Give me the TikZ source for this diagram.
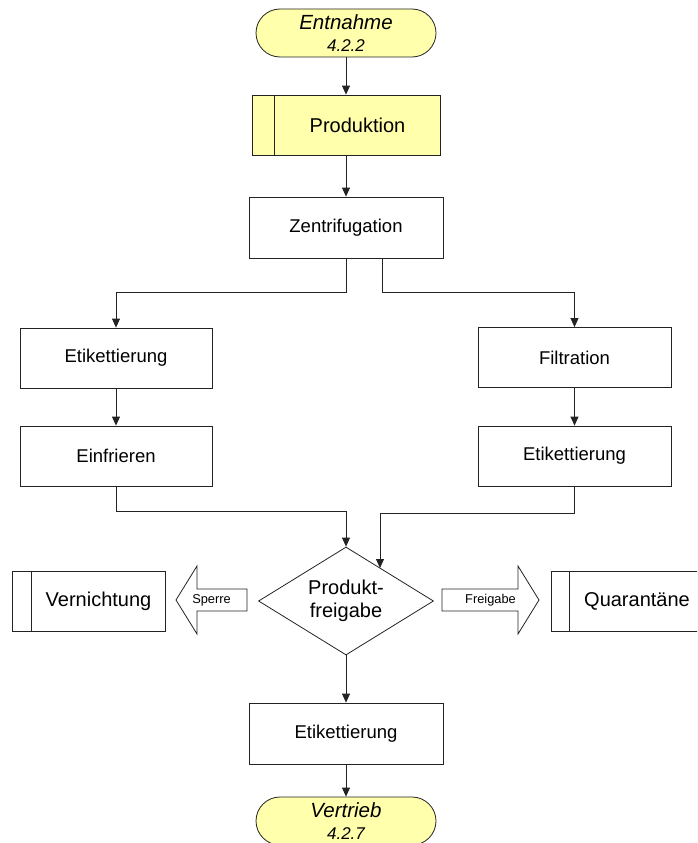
\documentclass[tikz,border=0pt]{standalone}
\usepackage{fontspec}
\setmainfont{Liberation Sans}
\usetikzlibrary{shapes.geometric,arrows.meta}
\definecolor{termfill}{RGB}{255,255,172}
\definecolor{linec}{RGB}{35,35,35}
\begin{document}
\begin{tikzpicture}[x=1pt,y=-1pt,
  base/.style={draw=linec, line width=0.8pt, inner sep=0pt},
  proc/.style={base, minimum width=193pt, minimum height=60pt, font=\fontsize{18.5}{22}\selectfont},
  side/.style={base, minimum width=153pt, minimum height=60pt},
  term/.style={base, fill=termfill, rounded corners=24pt, minimum width=180pt, minimum height=48pt, align=center, font=\fontsize{20.5}{22}\selectfont\itshape},
  lbl/.style={inner sep=0pt, font=\fontsize{20}{24}\selectfont},
  small/.style={inner sep=0pt, font=\fontsize{12.8}{15}\selectfont},
  arr/.style={draw=linec, line width=0.8pt, -{Triangle[length=9pt,width=8pt]}},
  conn/.style={draw=linec, line width=0.8pt},
  blk/.style={draw=linec, line width=0.8pt, fill=white, line join=miter}
]
\useasboundingbox (0,0) rectangle (697,843);
\clip (0,0) rectangle (697,843);

% terminators
\node[term] (entn) at (346,33) {Entnahme\\{\fontsize{17}{22}\selectfont 4.2.2}};
\node[term] (vert) at (346,821) {Vertrieb\\{\fontsize{17}{22}\selectfont 4.2.7}};

% predefined process Produktion
\node[base, fill=termfill, minimum width=188pt, minimum height=60pt] (prod) at (346,125) {};
\draw[conn] ([xshift=23pt]prod.north west) -- ([xshift=23pt]prod.south west);
\node[lbl] (prodlbl) at (357.5,125) {Produktion};

% process boxes
\node[proc, minimum width=194pt, minimum height=61pt] (zent) at (346,227.5) {Zentrifugation};
\node[proc, minimum width=192pt] (etik1) at (116,358) {Etikettierung};
\node[proc, minimum width=192pt] (einf) at (116,456) {Einfrieren};
\node[proc] (filt) at (574.5,357.5) {Filtration};
\node[proc] (etik2) at (574.5,456) {Etikettierung};
\node[proc, minimum width=194pt, minimum height=61pt] (etik3) at (346,733.5) {Etikettierung};

% decision
\node[base, diamond, aspect=1.62, minimum width=175pt, minimum height=108pt, align=center, font=\fontsize{20}{23}\selectfont] (dia) at (346,601) {Produkt-\\freigabe};
\coordinate (din) at (380,568);

% side boxes
\node[side] (vern) at (88.5,601) {};
\draw[conn] ([xshift=20pt]vern.north west) -- ([xshift=20pt]vern.south west);
\node[lbl] (vernlbl) at (98.5,601) {Vernichtung};
\node[side] (quar) at (627.5,601) {};
\draw[conn] ([xshift=19pt]quar.north west) -- ([xshift=19pt]quar.south west);
\node[lbl] (quarlbl) at (637,601) {Quarantäne};

% block arrows
\draw[blk] (176,600) -- (197,566) -- (197,589) -- (247,589) -- (247,611) -- (197,611) -- (197,634) -- cycle;
\node[small] (sperre) at (211.5,600) {Sperre};
\draw[blk] (539,600) -- (518,566) -- (518,589) -- (442,589) -- (442,611) -- (518,611) -- (518,634) -- cycle;
\node[small] (freig) at (490.5,600) {Freigabe};

% connectors
\draw[arr] (entn.south) -- (prod.north);
\draw[arr] (prod.south) -- (zent.north);
\draw[arr] (zent.south) -- ++(0,34) -| (etik1.north);
\draw[arr] ([xshift=36pt]zent.south) -- ++(0,34) -| (filt.north);
\draw[arr] (etik1.south) -- (einf.north);
\draw[arr] (filt.south) -- (etik2.north);
\draw[arr] (einf.south) -- ++(0,25) -| (dia.north);
\draw[arr] (etik2.south) -- ++(0,27) -| (din);
\draw[arr] (dia.south) -- (etik3.north);
\draw[arr] (etik3.south) -- (vert.north);
\end{tikzpicture}
\end{document}
